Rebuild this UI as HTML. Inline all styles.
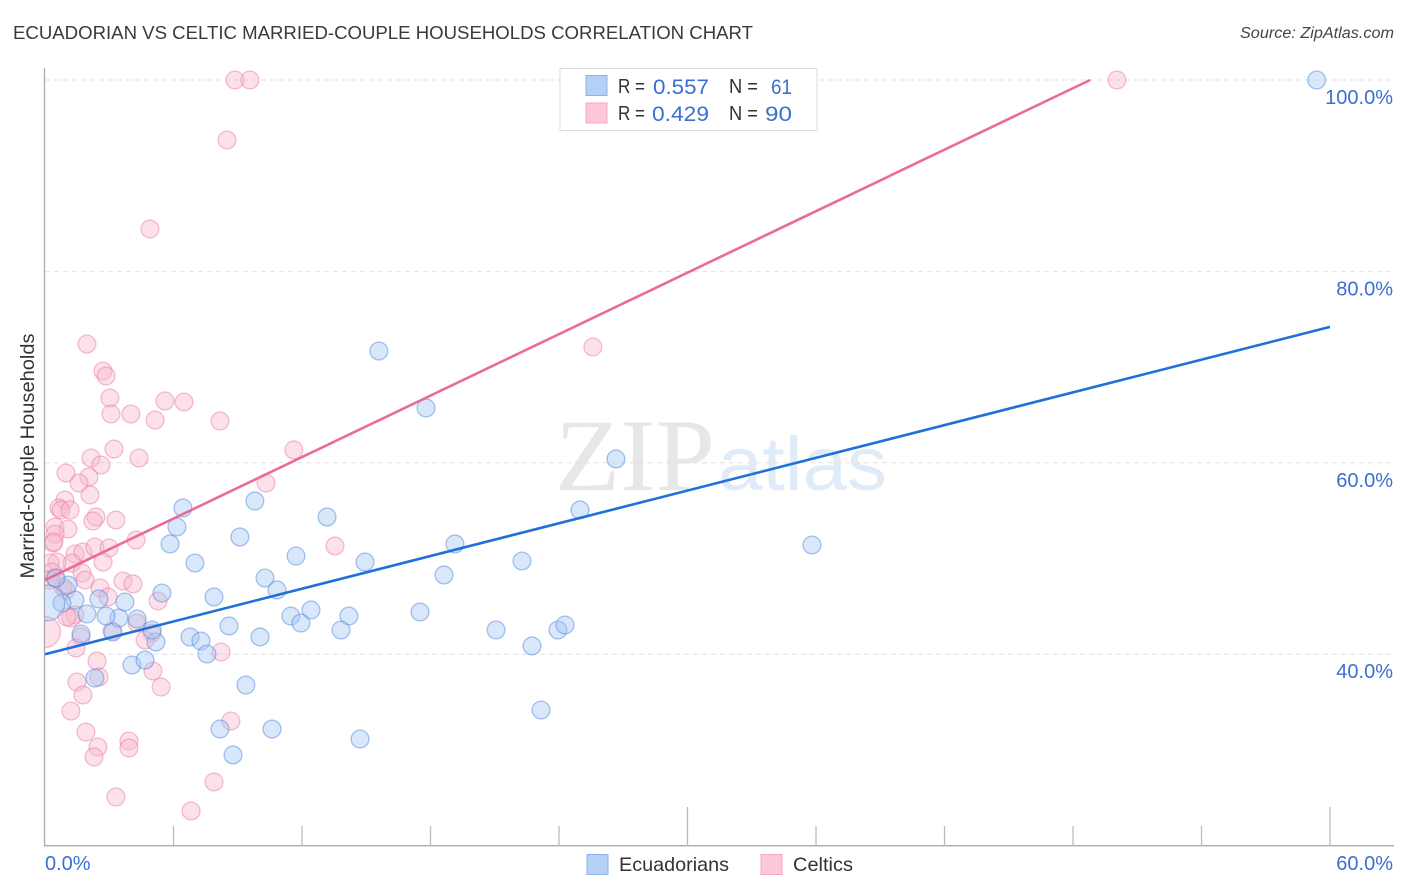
<!DOCTYPE html>
<html lang="en">
<head>
<meta charset="utf-8">
<title>Ecuadorian vs Celtic Married-couple Households Correlation Chart</title>
<style>
html,body{margin:0;padding:0;background:#fff;width:1406px;height:892px;overflow:hidden}
svg{display:block;font-family:"Liberation Sans",sans-serif}
</style>
</head>
<body>
<svg id="chart" xmlns="http://www.w3.org/2000/svg" width="1406" height="892" viewBox="0 0 1406 892">
  <defs><clipPath id="plot-clip"><rect x="45" y="0" width="1361" height="846"/></clipPath></defs>
  <rect x="0" y="0" width="1406" height="892" fill="#fff"/>
  <text x="13" y="39" font-size="18.5" fill="#3a3a3a" textLength="740" lengthAdjust="spacingAndGlyphs">ECUADORIAN VS CELTIC MARRIED-COUPLE HOUSEHOLDS CORRELATION CHART</text>
  <text x="1394" y="38" font-size="15.5" font-style="italic" fill="#444" text-anchor="end" textLength="154" lengthAdjust="spacingAndGlyphs">Source: ZipAtlas.com</text>
  <g>
    <text x="555" y="490" font-family="'Liberation Serif',serif" font-size="103" fill="#e7e7e7" textLength="160" lengthAdjust="spacingAndGlyphs">ZIP</text>
    <text x="718" y="490" font-family="'Liberation Sans',sans-serif" font-size="76" fill="#e0ebfa" textLength="169" lengthAdjust="spacingAndGlyphs">atlas</text>
  </g>
  <g id="grid"></g>
  <g id="axes"></g>
  <g id="points" clip-path="url(#plot-clip)"></g>
  <g id="trends"></g>
  <g id="ticklabels"></g>
  <text transform="translate(34,456) rotate(-90)" font-size="19.5" fill="#333" text-anchor="middle" textLength="245" lengthAdjust="spacingAndGlyphs">Married-couple Households</text>

  <g>
    <rect x="560" y="68.5" width="257" height="62" fill="#fff" fill-opacity="0.9" stroke="#ddd" stroke-width="1"/>
    <rect x="586" y="75.5" width="21" height="20" fill="#b5d0f5" stroke="#8db4ea"/>
    <rect x="586" y="103" width="21" height="20" fill="#fcc8d8" stroke="#f4a9c1"/>
    <g font-size="20" fill="#333">
      <text x="618" y="93" textLength="27" lengthAdjust="spacingAndGlyphs">R =</text>
      <text x="729" y="93" textLength="29" lengthAdjust="spacingAndGlyphs">N =</text>
      <text x="618" y="120" textLength="27" lengthAdjust="spacingAndGlyphs">R =</text>
      <text x="729" y="120" textLength="29" lengthAdjust="spacingAndGlyphs">N =</text>
    </g>
    <g font-size="21" fill="#3b6fd1">
      <text x="653" y="94" textLength="56" lengthAdjust="spacingAndGlyphs">0.557</text>
      <text x="771" y="94" textLength="21" lengthAdjust="spacingAndGlyphs">61</text>
      <text x="652" y="121" textLength="57" lengthAdjust="spacingAndGlyphs">0.429</text>
      <text x="765" y="121" textLength="27" lengthAdjust="spacingAndGlyphs">90</text>
    </g>
  </g>

  <g>
    <rect x="587" y="854.5" width="21" height="20" fill="#b5d0f5" stroke="#8db4ea"/>
    <text x="619" y="871" font-size="19.5" fill="#333" textLength="110" lengthAdjust="spacingAndGlyphs">Ecuadorians</text>
    <rect x="761" y="854.5" width="21" height="20" fill="#fcc8d8" stroke="#f4a9c1"/>
    <text x="793" y="871" font-size="19.5" fill="#333" textLength="60" lengthAdjust="spacingAndGlyphs">Celtics</text>
  </g>
</svg>
<script>
const ecuadorianX = [59.38,15.59,17.79,26.66,35.81,24.98,9.80,6.44,6.16,5.84,9.10,13.17,7.00,11.72,14.94,19.14,22.27,18.63,10.27,10.83,5.46,7.89,17.51,12.42,11.48,11.95,14.19,13.82,8.59,10.04,6.77,7.28,7.56,5.18,5.00,3.17,3.45,2.85,4.30,3.73,2.52,1.40,1.96,0.79,1.07,0.51,1.68,4.06,4.67,2.33,9.38,8.17,10.60,8.78,14.71,23.16,21.06,22.74,23.95,24.28,0.09];
const ecuadorianY = [100,71.68,65.73,60.40,51.41,55.07,56.01,55.28,53.29,51.52,52.25,54.34,49.53,50.26,49.63,51.52,49.74,48.28,47.96,46.71,46.39,45.98,44.41,44.62,43.99,43.26,43.99,42.53,42.95,41.80,41.80,41.38,40.02,41.27,42.53,42.32,43.78,43.99,43.68,45.45,45.77,45.66,44.20,45.35,47.23,47.96,42.11,38.87,39.39,37.51,36.78,32.18,32.18,29.47,31.14,34.17,42.53,40.86,42.53,43.05,45.35];
const ecuadorianWeight = [1,1,1,1,1,1,1,1,1,1,1,1,1,1,1,1,1,1,1,1,1,1,1,1,1,1,1,1,1,1,1,1,1,1,1,1,1,1,1,1,1,1,1,1,1,1,1,1,1,1,1,1,1,1,1,1,1,1,1,1,4];
const celticX = [8.87,9.57,50.05,8.50,4.90,25.58,1.96,2.71,2.85,3.03,5.60,6.49,3.08,4.01,5.14,8.17,3.22,11.62,4.39,2.15,2.61,0.98,2.05,1.59,2.10,10.32,0.93,0.65,0.75,1.17,2.38,2.24,3.31,0.47,1.07,0.47,0.37,0.42,4.25,13.54,1.40,1.77,2.33,2.99,2.71,1.26,0.56,0.23,1.73,1.87,0.33,0.23,3.64,4.11,2.57,2.94,0.84,5.28,1.40,1.21,1.03,3.13,4.30,5.00,4.67,1.68,1.45,8.22,2.43,5.04,1.49,2.52,1.77,5.42,1.21,1.91,3.92,3.92,2.47,2.29,8.68,7.89,3.31,6.82,0,0.47,0.98];
const celticY = [100,100,100,93.73,84.43,72.10,72.41,69.59,69.07,66.77,66.46,66.35,65.10,65.10,64.47,64.37,61.44,61.34,60.50,60.50,59.77,58.93,58.52,57.89,56.64,57.89,56.11,55.28,55.07,55.07,54.34,53.92,54.02,53.29,53.08,52.56,51.62,51.72,51.93,51.31,50.47,50.68,51.20,51.10,49.63,49.53,49.63,49.53,48.48,47.75,48.59,47.75,47.65,47.34,46.92,45.98,47.02,45.56,44.10,43.78,43.89,42.42,43.26,42.22,41.48,41.80,40.65,40.23,39.29,38.24,37.09,37.62,35.74,36.57,34.06,31.87,30.93,30.20,30.30,29.26,33.02,26.65,25.08,23.62,42.32,47.96,46.70];
const celticWeight = [1,1,1,1,1,1,1,1,1,1,1,1,1,1,1,1,1,1,1,1,1,1,1,1,1,1,1,1,1,1,1,1,1,1,1,1,1,1,1,1,1,1,1,1,1,1,1,1,1,1,1,1,1,1,1,1,1,1,1,1,1,1,1,1,1,1,1,1,1,1,1,1,1,1,1,1,1,1,1,1,1,1,1,1,3,1,1];
const ecuadorianTrendX = [0,60];
const ecuadorianTrendY = [40.0,74.2];
const celticTrendX = [0,48.8];
const celticTrendY = [47.75,100];
const yTicks = [100,80,60,40];
const yTickLabels = ["100.0%","80.0%","60.0%","40.0%"];
const xMinorTicks = [6,12,18,24,36,42,48,54];
const xMajorTicks = [30,60];
const xTickValues = [0,60];
const xTickLabels = ["0.0%","60.0%"];

const NS = "http://www.w3.org/2000/svg";
function xScale(v){ return 45 + v * 21.417; }
function yScale(v){ return 80 + (100 - v) * 9.57; }
function mk(tag, parent, attrs){
  const el = document.createElementNS(NS, tag);
  for (const k in attrs) el.setAttribute(k, attrs[k]);
  parent.appendChild(el);
  return el;
}
const grid = document.getElementById("grid");
const axes = document.getElementById("axes");
const points = document.getElementById("points");
const trends = document.getElementById("trends");
const labels = document.getElementById("ticklabels");

yTicks.forEach(function(t){
  const line = mk("line", grid, {x1:45, x2:1394, y1:yScale(t), y2:yScale(t), stroke:"#e2e2e2", "stroke-width":1, "stroke-dasharray":"5 4"});
  
  
});

const yAxis = mk("line", axes, {x1:44.5, x2:44.5, y1:68, y2:846, stroke:"#aaa", "stroke-width":1.3});


const xAxis = mk("line", axes, {x1:44, x2:1394, y1:845.7, y2:845.7, stroke:"#aaa", "stroke-width":1.3});



xMinorTicks.forEach(function(t){
  const tick = mk("line", axes, {x1:xScale(t), x2:xScale(t), y1:826, y2:846, stroke:"#bbb", "stroke-width":1.3});
  
  
});
xMajorTicks.forEach(function(t){
  const tick = mk("line", axes, {x1:xScale(t), x2:xScale(t), y1:807, y2:846, stroke:"#bbb", "stroke-width":1.3});
  
  
});

function drawSeries(xs, ys, weights, fill, stroke, name){
  xs.forEach(function(x, i){
    const c = mk("circle", points, {cx:xScale(x), cy:yScale(ys[i]), r:8.9 * Math.sqrt(weights[i]) , fill:fill, "fill-opacity":0.42, stroke:stroke, "stroke-opacity":0.5, "stroke-width":1.3});
    
    
  });
}
drawSeries(celticX, celticY, celticWeight, "#f9b8cd", "#ea7ea2", "celtics-point");
drawSeries(ecuadorianX, ecuadorianY, ecuadorianWeight, "#a3c5f3", "#4f8ade", "ecuadorians-point");

const trendB = mk("line", trends, {x1:xScale(ecuadorianTrendX[0]), y1:yScale(ecuadorianTrendY[0]), x2:xScale(ecuadorianTrendX[1]), y2:yScale(ecuadorianTrendY[1]), stroke:"#2070d8", "stroke-width":2.6});


const trendP = mk("line", trends, {x1:xScale(celticTrendX[0]), y1:yScale(celticTrendY[0]), x2:xScale(celticTrendX[1]), y2:yScale(celticTrendY[1]), stroke:"#e96b9b", "stroke-width":2.6});



yTicks.forEach(function(t, i){
  const lab = mk("text", labels, {x:1393, y:yScale(t)+24, "font-size":20, fill:"#3b6fd1", "text-anchor":"end"});
  
  
  lab.textContent = yTickLabels[i];
});
xTickValues.forEach(function(t, i){
  const lab = mk("text", labels, {x: i === 0 ? xScale(t) : 1393, y:870, "font-size":20, fill:"#3b6fd1", "text-anchor": i === 0 ? "start" : "end"});
  
  
  lab.textContent = xTickLabels[i];
});
</script>
</body>
</html>
